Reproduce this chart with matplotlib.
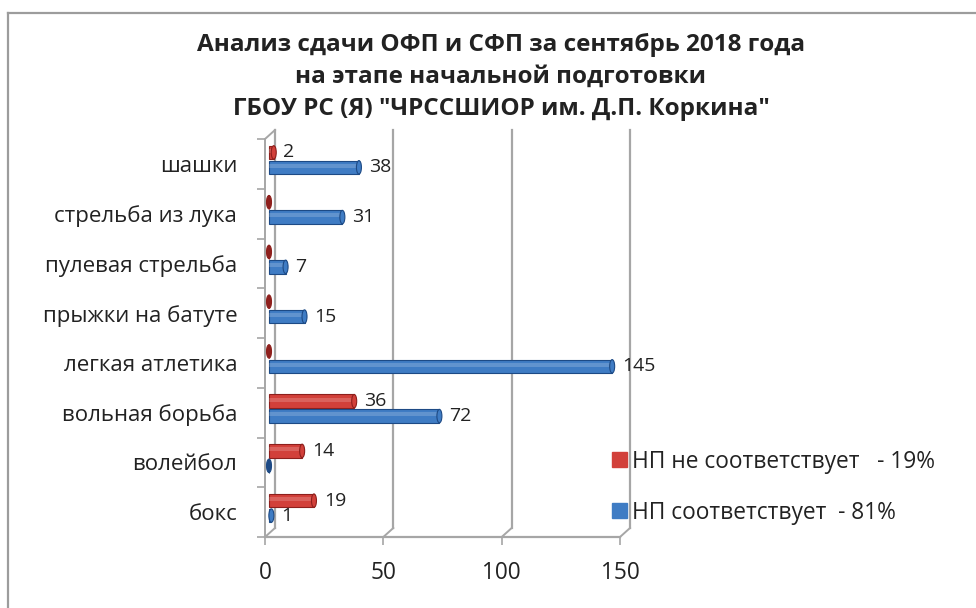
import numpy as np
import matplotlib
matplotlib.use('Agg')
import matplotlib.pyplot as plt
import matplotlib.transforms as mtransforms
from matplotlib.patches import Patch, Ellipse
from matplotlib.lines import Line2D

plt.rcParams['font.family'] = ['Open Sans', 'DejaVu Sans']

# данные
sports = ['бокс', 'волейбол', 'вольная борьба', 'легкая атлетика',
          'прыжки на батуте', 'пулевая стрельба', 'стрельба из лука', 'шашки']
ne_sootv = [19, 14, 36, 0, 0, 0, 0, 2]      # НП не соответствует
sootv = [1, 0, 72, 145, 15, 7, 31, 38]      # НП соответствует
xticks = [0, 50, 100, 150]
title = ('Анализ сдачи ОФП и СФП за сентябрь 2018 года\n'
         'на этапе начальной подготовки\n'
         'ГБОУ РС (Я) "ЧРССШИОР им. Д.П. Коркина"')

red = '#d2403a'
blue = '#3f7cc4'
red_dark = '#8e1f1c'
blue_dark = '#1d4a85'
grid_c = '#a6a6a6'

fig = plt.figure(figsize=(9.76, 6.08), dpi=100)
W, H = 976, 608
ax = fig.add_axes([265 / W, 1 - 537 / H, 355 / W, 398 / H])
ax.set_xlim(0, 150)
ax.set_ylim(-0.5, len(sports) - 0.5)
for s in ax.spines.values():
    s.set_visible(False)

# рамка (верх и лево)
fig.add_artist(Line2D([8 / W, 1], [1 - 13 / H, 1 - 13 / H], color='#9c9c9c', lw=1.6))
fig.add_artist(Line2D([8 / W, 8 / W], [0, 1 - 13 / H], color='#9c9c9c', lw=1.6))

# псевдо-3D стенки
back = mtransforms.offset_copy(ax.transData, fig=fig, x=10, y=9, units='dots')
mid = mtransforms.offset_copy(ax.transData, fig=fig, x=4, y=4, units='dots')
y0, y1 = -0.5, len(sports) - 0.5
for xv in xticks:
    ax.plot([xv, xv], [y0, y1], color=grid_c, lw=1.6, transform=back, clip_on=False, zorder=1)
    ax.plot([xv, xv + 10 / 2.367], [y0, y0 + 9 / 49.75], color=grid_c, lw=1.4, clip_on=False, zorder=1)
ax.plot([0, 150], [y0, y0], color=grid_c, lw=1.6, clip_on=False, zorder=1)
ax.plot([0, 0], [y0, y1], color=grid_c, lw=1.4, clip_on=False, zorder=1)
ax.plot([0, 10 / 2.367], [y1, y1 + 9 / 49.75], color=grid_c, lw=1.4, clip_on=False, zorder=1)

# столбики
pos = np.arange(len(sports))
h = 0.27
px = 150 / 355.0
for vals, off, c, cd in [(ne_sootv, 0.15, red, red_dark), (sootv, -0.15, blue, blue_dark)]:
    for i, v in enumerate(vals):
        yc = pos[i] + off
        ax.barh(yc, v, height=h, color=c, edgecolor=cd, linewidth=0.8, transform=mid, zorder=3)
        if v > 0:
            ax.barh(yc + h * 0.12, v, height=h * 0.3, color='white', alpha=0.18,
                    linewidth=0, transform=mid, zorder=4)
        ax.add_patch(Ellipse((v, yc), width=5 * px, height=h, facecolor=cd if v == 0 else c,
                             edgecolor=cd, lw=0.8, transform=mid, zorder=5))
        if v > 0:
            ax.annotate(str(v), (v, yc), xycoords=mid, xytext=(7, 0), textcoords='offset points',
                        va='center', ha='left', fontsize=14, color='#222222', zorder=6)

ax.set_yticks(pos)
ax.set_yticklabels(sports, fontsize=16, color='#222222')
ax.set_yticks(np.arange(-0.5, len(sports), 1), minor=True)
ax.tick_params(axis='y', which='major', length=0, pad=20)
ax.tick_params(axis='y', which='minor', length=6, color=grid_c, width=1.2)
ax.set_xticks(xticks)
ax.set_xticklabels([str(t) for t in xticks], fontsize=16.3, color='#222222')
ax.tick_params(axis='x', length=6, color=grid_c, width=1.2, pad=11)

fig.text(501 / W, 1 - 77 / H, title, ha='center', va='center', fontsize=17.5,
         fontweight='bold', color='#222222', linespacing=1.45)

total = sum(ne_sootv) + sum(sootv)
p_ne = round(100 * sum(ne_sootv) / total)
p_s = round(100 * sum(sootv) / total)
handles = [Patch(color=red, label='НП не соответствует   - %d%%' % p_ne),
           Patch(color=blue, label='НП соответствует  - %d%%' % p_s)]
fig.legend(handles=handles, loc='upper left', bbox_to_anchor=(591 / W, 1 - 429 / H),
           frameon=False, fontsize=16.4, handlelength=0.66, handleheight=0.66,
           handletextpad=0.26, labelspacing=1.19, labelcolor='#222222')

fig.savefig('out.png', dpi=100)
